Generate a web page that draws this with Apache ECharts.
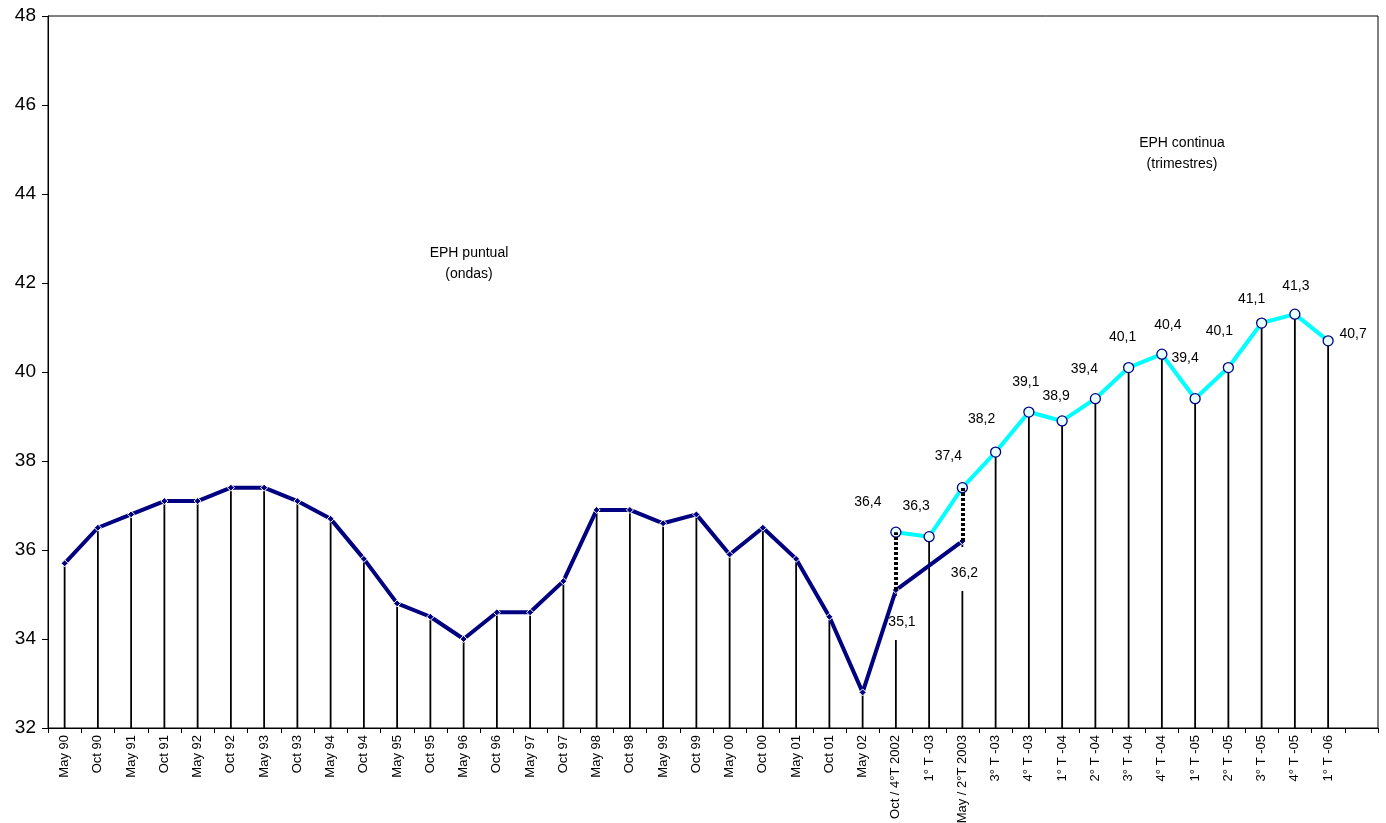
<!DOCTYPE html>
<html>
<head>
<meta charset="utf-8">
<script src="https://cdn.jsdelivr.net/npm/echarts@6/dist/echarts.min.js"></script>
<style>
  html, body { margin: 0; padding: 0; background: #fff; }
  #chart { width: 1386px; height: 823px; }
</style>
</head>
<body>
<div id="chart"></div>
<script>
// Categories (last slot is left empty, like the original axis)
const categories = [
    'May 90', 'Oct 90', 'May 91', 'Oct 91', 'May 92', 'Oct 92', 'May 93', 'Oct 93',
    'May 94', 'Oct 94', 'May 95', 'Oct 95', 'May 96', 'Oct 96', 'May 97', 'Oct 97',
    'May 98', 'Oct 98', 'May 99', 'Oct 99', 'May 00', 'Oct 00', 'May 01', 'Oct 01',
    'May 02', 'Oct / 4°T 2002', '1° T -03', 'May / 2°T 2003', '3° T -03', '4° T -03',
    '1° T -04', '2° T -04', '3° T -04', '4° T -04', '1° T -05', '2° T -05', '3° T -05',
    '4° T -05', '1° T -06', ''
];

// EPH puntual (ondas)
const puntual = [
    35.7, 36.5, 36.8, 37.1, 37.1, 37.4, 37.4, 37.1,
    36.7, 35.8, 34.8, 34.5, 34.0, 34.6, 34.6, 35.3,
    36.9, 36.9, 36.6, 36.8, 35.9, 36.5, 35.8, 34.5,
    32.8, 35.1, null, 36.2, null, null,
    null, null, null, null, null, null, null,
    null, null, null
];

// EPH continua (trimestres)
const continua = [
    null, null, null, null, null, null, null, null,
    null, null, null, null, null, null, null, null,
    null, null, null, null, null, null, null, null,
    null, 36.4, 36.3, 37.4, 38.2, 39.1,
    38.9, 39.4, 40.1, 40.4, 39.4, 40.1, 41.1,
    41.3, 40.7, null
];

// where each value label of the continua series sits, relative to its point
const continuaLabelOffsets = {
    25: [-28, -30], 26: [-13, -31], 27: [-14, -32], 28: [-14, -33], 29: [-3, -30],
    30: [-6, -25], 31: [-11, -30], 32: [-6, -30], 33: [6, -29], 34: [-10, -41],
    35: [-9, -36], 36: [-10, -24], 37: [1, -28], 38: [25, -7]
};
const puntualLabelShift = { 25: 6, 27: 2 };

const fmt = v => v.toFixed(1).replace('.', ',');
const FONT = 'Liberation Sans, Arial, sans-serif';

// drop lines: from the lower point (or the only point) down to the axis
const dropData = categories.map((c, i) => {
    const v = puntual[i] != null ? puntual[i] : continua[i];
    if (v == null) return null;
    if (puntual[i] != null && continua[i] != null) {
        // the puntual value label sits under these, masking the line
        return {
            value: v,
            label: {
                show: true,
                position: [1 + puntualLabelShift[i], 6],
                align: 'center',
                verticalAlign: 'top',
                formatter: p => fmt(p.value),
                fontSize: 14,
                fontFamily: FONT,
                color: '#000',
                backgroundColor: '#fff',
                padding: [19, 3, 11, 3]
            }
        };
    }
    return v;
});

// dashed connectors between both series where they overlap
const connectors = [];
categories.forEach((c, i) => {
    if (puntual[i] != null && continua[i] != null) {
        connectors.push([{ coord: [c, puntual[i]] }, { coord: [c, continua[i]] }]);
    }
});

const continuaData = continua.map((v, i) => {
    if (v == null) return null;
    return { value: v, label: { offset: continuaLabelOffsets[i] } };
});

const chartDom = document.getElementById('chart');
const myChart = echarts.init(chartDom);

const option = {
    animation: false,
    backgroundColor: '#fff',
    textStyle: { fontFamily: FONT },
    grid: {
        left: 48,
        right: 8,
        top: 16,
        bottom: 95,
        outerBoundsMode: 'none',
        containLabel: false,
        show: true,
        borderColor: '#000',
        borderWidth: 1
    },
    xAxis: {
        type: 'category',
        data: categories,
        boundaryGap: true,
        axisLine: { lineStyle: { color: '#000', width: 1 } },
        axisTick: { show: true, interval: 0, length: 5, lineStyle: { color: '#000' } },
        axisLabel: {
            interval: 0,
            rotate: 90,
            fontSize: 13,
            margin: 7,
            color: '#000',
            fontFamily: FONT
        },
        splitLine: { show: false }
    },
    yAxis: {
        type: 'value',
        min: 32,
        max: 48,
        interval: 2,
        axisLine: { show: true, lineStyle: { color: '#000', width: 1 } },
        axisTick: { show: true, length: 6, lineStyle: { color: '#000' } },
        axisLabel: { fontSize: 19, margin: 12, color: '#000', fontFamily: FONT },
        splitLine: { show: false }
    },
    graphic: [
        {
            type: 'text',
            x: 469,
            y: 243,
            style: {
                text: 'EPH puntual\n(ondas)',
                textAlign: 'center',
                fontSize: 14,
                lineHeight: 21,
                fontFamily: FONT,
                fill: '#000'
            }
        },
        {
            type: 'text',
            x: 1182,
            y: 133,
            style: {
                text: 'EPH continua\n(trimestres)',
                textAlign: 'center',
                fontSize: 14,
                lineHeight: 21,
                fontFamily: FONT,
                fill: '#000'
            }
        }
    ],
    series: [
        {
            name: 'Drop lines',
            type: 'bar',
            data: dropData,
            barWidth: 1.8,
            z: 1,
            itemStyle: { color: '#000' },
            silent: true
        },
        {
            name: 'EPH puntual',
            type: 'line',
            data: puntual,
            connectNulls: true,
            z: 3,
            symbol: 'diamond',
            symbolSize: 7,
            showAllSymbol: true,
            lineStyle: { color: '#000080', width: 4 },
            itemStyle: { color: '#000080', borderColor: '#fff', borderWidth: 1 },
            markLine: {
                silent: true,
                symbol: 'none',
                label: { show: false },
                lineStyle: { color: '#000', width: 4, type: [3, 2] },
                data: connectors
            }
        },
        {
            name: 'EPH continua',
            type: 'line',
            data: continuaData,
            z: 4,
            symbol: 'circle',
            symbolSize: 10,
            showAllSymbol: true,
            lineStyle: { color: '#00FFFF', width: 4 },
            itemStyle: { color: '#e8ffff', borderColor: '#000080', borderWidth: 1.3 },
            label: {
                show: true,
                position: 'inside',
                formatter: p => fmt(p.value),
                fontSize: 14,
                fontFamily: FONT,
                color: '#000'
            }
        }
    ]
};

myChart.setOption(option);

window.addEventListener('resize', function () {
    myChart.resize();
});
</script>
</body>
</html>
